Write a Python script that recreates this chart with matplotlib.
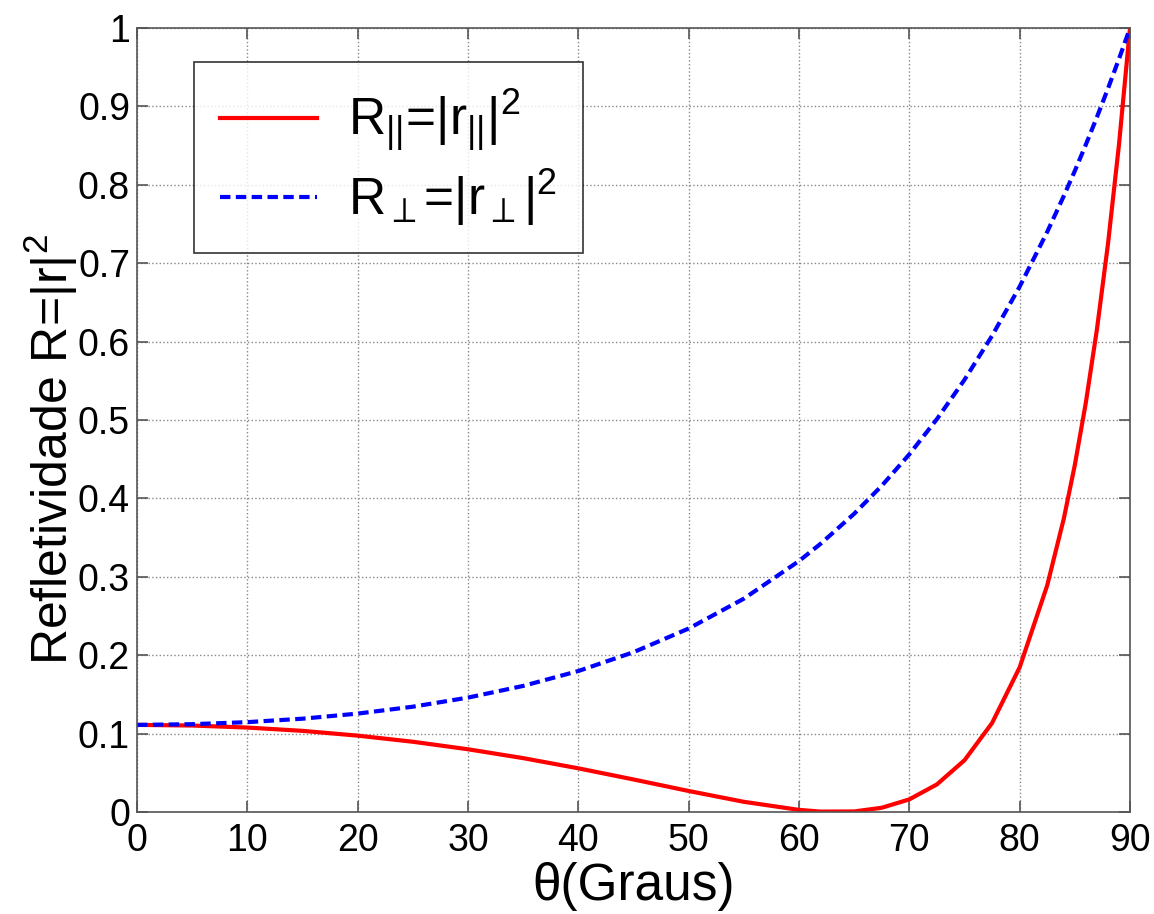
import matplotlib
matplotlib.use("Agg")
import matplotlib.pyplot as plt

plt.rcParams['font.family'] = ['Liberation Sans', 'DejaVu Sans']
plt.rcParams['mathtext.fontset'] = 'custom'
plt.rcParams['mathtext.rm'] = 'Liberation Sans'
plt.rcParams['mathtext.it'] = 'Liberation Sans:italic'
plt.rcParams['mathtext.bf'] = 'Liberation Sans:bold'

# angle of incidence (degrees)
theta = [0, 5, 10, 15, 20, 25, 30, 35, 40, 45, 50, 55, 60, 62, 65, 67.5,
         70, 72.5, 75, 77.5, 80, 82.5, 84, 85, 86, 87, 88, 89, 90]
# R parallel
r_par = [0.1111, 0.1103, 0.1077, 0.1035, 0.0974, 0.0896, 0.0800, 0.0687,
         0.0557, 0.0415, 0.0268, 0.0130, 0.0027, 0.0005, 0.0007, 0.0054,
         0.0161, 0.0352, 0.0660, 0.1135, 0.1845, 0.2892, 0.3741, 0.4426,
         0.5223, 0.6153, 0.7240, 0.8510, 1.0]
# R perpendicular
r_perp = [0.1111, 0.1120, 0.1146, 0.1190, 0.1255, 0.1343, 0.1459, 0.1608,
          0.1798, 0.2038, 0.2340, 0.2721, 0.3201, 0.3426, 0.3804, 0.4161,
          0.4562, 0.5011, 0.5513, 0.6074, 0.6701, 0.7400, 0.7857, 0.8177,
          0.8513, 0.8862, 0.9226, 0.9605, 1.0]

xticks = [0, 10, 20, 30, 40, 50, 60, 70, 80, 90]
yticks = [0, 0.1, 0.2, 0.3, 0.4, 0.5, 0.6, 0.7, 0.8, 0.9, 1]
ytick_labels = ['0', '0.1', '0.2', '0.3', '0.4', '0.5', '0.6', '0.7', '0.8', '0.9', '1']

fig = plt.figure(figsize=(11.54, 9.14), dpi=100)
ax = fig.add_axes([0.1187, 0.1116, 0.8605, 0.8578])

ax.plot(theta, r_par, color='#ff0000', lw=3.0, linestyle='-',
        label=r'R$_{||}$=|r$_{||}$|$^{2}$')
ax.plot(theta, r_perp, color='#0000ff', lw=3.0, linestyle=(0, (2.5, 1.3)),
        label=r'R$_{\perp}$=|r$_{\perp}$|$^{2}$')

ax.set_xlim(0, 90)
ax.set_ylim(0, 1)
ax.set_xticks(xticks)
ax.set_yticks(yticks)
ax.set_yticklabels(ytick_labels)
ax.tick_params(direction='in', length=8, width=1.2, colors='#555555',
               labelcolor='black', labelsize=27, top=True, right=True, pad=5)
ax.tick_params(axis='x', pad=8)
for s in ax.spines.values():
    s.set_color('#555555')
    s.set_linewidth(1.2)
ax.grid(True, color='#888888', linestyle=':', linewidth=1.0)

ax.set_xlabel('θ(Graus)', fontsize=37, labelpad=0)
ax.xaxis.set_label_coords(0.5, -0.064)
ax.set_ylabel(r'Refletividade R=|r|$^{2}$', fontsize=36, labelpad=2)
ax.yaxis.set_label_coords(-0.057, 0.462)

leg = ax.legend(loc='upper left', bbox_to_anchor=(0.0574, 0.9566), fontsize=37,
                frameon=True, fancybox=False, handlelength=1.9,
                handletextpad=0.6, borderpad=0.5, labelspacing=0.25,
                borderaxespad=0)
leg.get_frame().set_edgecolor('black')
leg.get_frame().set_linewidth(1.2)

fig.savefig('out.png', dpi=100)
